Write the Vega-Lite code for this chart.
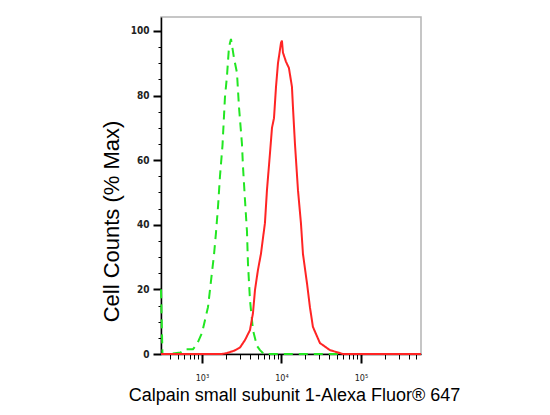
{
  "$schema": "https://vega.github.io/schema/vega-lite/v6.json",
  "width": 260,
  "height": 337,
  "autosize": {"type": "none"},
  "padding": {"left": 161, "top": 17, "right": 129, "bottom": 61},
  "background": "white",
  "config": {"view": {"stroke": "#b4b4b4", "strokeWidth": 1.5}},
  "data": {
    "values": [
      {"sample": "Isotype", "fluor": 305, "pct": 20},
      {"sample": "Isotype", "fluor": 318, "pct": 0},
      {"sample": "Isotype", "fluor": 395, "pct": 0},
      {"sample": "Isotype", "fluor": 540, "pct": 0.5},
      {"sample": "Isotype", "fluor": 611, "pct": 1.5},
      {"sample": "Isotype", "fluor": 771, "pct": 1.5},
      {"sample": "Isotype", "fluor": 865, "pct": 3},
      {"sample": "Isotype", "fluor": 1000, "pct": 6.5},
      {"sample": "Isotype", "fluor": 1190, "pct": 14.5},
      {"sample": "Isotype", "fluor": 1415, "pct": 30.6},
      {"sample": "Isotype", "fluor": 1500, "pct": 37.5},
      {"sample": "Isotype", "fluor": 1590, "pct": 45.5},
      {"sample": "Isotype", "fluor": 1684, "pct": 55},
      {"sample": "Isotype", "fluor": 1811, "pct": 64.5},
      {"sample": "Isotype", "fluor": 1946, "pct": 79.5},
      {"sample": "Isotype", "fluor": 2062, "pct": 86},
      {"sample": "Isotype", "fluor": 2186, "pct": 95},
      {"sample": "Isotype", "fluor": 2317, "pct": 97.5},
      {"sample": "Isotype", "fluor": 2528, "pct": 91.6},
      {"sample": "Isotype", "fluor": 2756, "pct": 87},
      {"sample": "Isotype", "fluor": 2920, "pct": 76.5},
      {"sample": "Isotype", "fluor": 3185, "pct": 65},
      {"sample": "Isotype", "fluor": 3280, "pct": 58},
      {"sample": "Isotype", "fluor": 3475, "pct": 47.7},
      {"sample": "Isotype", "fluor": 3682, "pct": 38},
      {"sample": "Isotype", "fluor": 3790, "pct": 28},
      {"sample": "Isotype", "fluor": 4018, "pct": 16.7},
      {"sample": "Isotype", "fluor": 4383, "pct": 7.4},
      {"sample": "Isotype", "fluor": 4920, "pct": 2.5},
      {"sample": "Isotype", "fluor": 5370, "pct": 1.2},
      {"sample": "Isotype", "fluor": 6030, "pct": 0},
      {"sample": "Isotype", "fluor": 570000, "pct": 0},
      {"sample": "Calpain", "fluor": 305, "pct": 0},
      {"sample": "Calpain", "fluor": 1786, "pct": 0},
      {"sample": "Calpain", "fluor": 2062, "pct": 0.3},
      {"sample": "Calpain", "fluor": 2528, "pct": 1},
      {"sample": "Calpain", "fluor": 3006, "pct": 2},
      {"sample": "Calpain", "fluor": 3475, "pct": 4.3},
      {"sample": "Calpain", "fluor": 4018, "pct": 7.4},
      {"sample": "Calpain", "fluor": 4383, "pct": 12.7},
      {"sample": "Calpain", "fluor": 4645, "pct": 19.8},
      {"sample": "Calpain", "fluor": 5060, "pct": 26},
      {"sample": "Calpain", "fluor": 5520, "pct": 31},
      {"sample": "Calpain", "fluor": 6194, "pct": 40.5},
      {"sample": "Calpain", "fluor": 6570, "pct": 50.7},
      {"sample": "Calpain", "fluor": 7165, "pct": 62},
      {"sample": "Calpain", "fluor": 7600, "pct": 70},
      {"sample": "Calpain", "fluor": 8055, "pct": 73},
      {"sample": "Calpain", "fluor": 8540, "pct": 82.7},
      {"sample": "Calpain", "fluor": 9045, "pct": 90},
      {"sample": "Calpain", "fluor": 9865, "pct": 96.3},
      {"sample": "Calpain", "fluor": 10140, "pct": 97},
      {"sample": "Calpain", "fluor": 10440, "pct": 93.3},
      {"sample": "Calpain", "fluor": 11390, "pct": 90.5},
      {"sample": "Calpain", "fluor": 12420, "pct": 88.5},
      {"sample": "Calpain", "fluor": 13550, "pct": 82.7},
      {"sample": "Calpain", "fluor": 13950, "pct": 76.5},
      {"sample": "Calpain", "fluor": 14790, "pct": 65},
      {"sample": "Calpain", "fluor": 16140, "pct": 50.7},
      {"sample": "Calpain", "fluor": 17590, "pct": 40.5},
      {"sample": "Calpain", "fluor": 18640, "pct": 31},
      {"sample": "Calpain", "fluor": 20930, "pct": 22},
      {"sample": "Calpain", "fluor": 22820, "pct": 14.5},
      {"sample": "Calpain", "fluor": 24880, "pct": 8.4},
      {"sample": "Calpain", "fluor": 30480, "pct": 3.4},
      {"sample": "Calpain", "fluor": 40740, "pct": 1.2},
      {"sample": "Calpain", "fluor": 59380, "pct": 0},
      {"sample": "Calpain", "fluor": 570000, "pct": 0}
    ]
  },
  "mark": {"type": "line", "interpolate": "linear", "strokeWidth": 2},
  "encoding": {
    "x": {
      "field": "fluor",
      "type": "quantitative",
      "scale": {"type": "log", "domain": [305, 570000], "nice": false},
      "axis": {
        "values": [400, 500, 600, 700, 800, 900, 1000, 2000, 3000, 4000, 5000, 6000, 7000, 8000, 9000, 10000, 20000, 30000, 40000, 50000, 60000, 70000, 80000, 90000, 100000, 200000, 300000, 400000, 500000],
        "labelExpr": "datum.value == 1000 ? '10³' : datum.value == 10000 ? '10⁴' : datum.value == 100000 ? '10⁵' : ''",
        "tickSize": {"condition": {"test": "datum.value == 1000 || datum.value == 10000 || datum.value == 100000", "value": 9}, "value": 5},
        "tickWidth": {"condition": {"test": "datum.value == 1000 || datum.value == 10000 || datum.value == 100000", "value": 2}, "value": 1},
        "tickColor": "black",
        "domainColor": "black",
        "domainWidth": 1.5,
        "grid": false,
        "labelFont": "DejaVu Sans Condensed, sans-serif",
        "labelFontSize": 9,
        "labelColor": "#222222",
        "labelPadding": 10,
        "labelFlush": false,
        "labelOverlap": false,
        "labelBound": false,
        "title": "Calpain small subunit 1-Alexa Fluor® 647",
        "titleFont": "Liberation Sans, Arial, sans-serif",
        "titleFontSize": 18,
        "titleFontWeight": "normal",
        "titleColor": "black",
        "titleAlign": "center",
        "titleBaseline": "alphabetic",
        "titleX": 133,
        "titleY": 46
      }
    },
    "y": {
      "field": "pct",
      "type": "quantitative",
      "scale": {"domain": [0, 104.3], "nice": false},
      "axis": {
        "values": [0, 5, 10, 15, 20, 25, 30, 35, 40, 45, 50, 55, 60, 65, 70, 75, 80, 85, 90, 95, 100],
        "labelExpr": "datum.value % 20 === 0 ? datum.label : ''",
        "tickSize": {"condition": {"test": "datum.value % 20 === 0", "value": 8}, "value": 3},
        "tickWidth": {"condition": {"test": "datum.value % 20 === 0", "value": 2}, "value": 1},
        "tickColor": "black",
        "domainColor": "black",
        "domainWidth": 1.5,
        "grid": false,
        "labelFont": "DejaVu Sans Condensed, sans-serif",
        "labelFontSize": 10,
        "labelFontWeight": "bold",
        "labelColor": "#222222",
        "labelPadding": 4,
        "labelFlush": false,
        "labelOverlap": false,
        "title": "Cell Counts (% Max)",
        "titleFont": "Liberation Sans, Arial, sans-serif",
        "titleFontSize": 22,
        "titleFontWeight": "normal",
        "titleColor": "black",
        "titleAngle": -90,
        "titleAlign": "center",
        "titleBaseline": "middle",
        "titleX": -50,
        "titleY": 204
      }
    },
    "color": {
      "field": "sample",
      "type": "nominal",
      "sort": ["Isotype", "Calpain"],
      "scale": {"domain": ["Isotype", "Calpain"], "range": ["#22e622", "#ff2424"]},
      "legend": null
    },
    "strokeDash": {
      "field": "sample",
      "type": "nominal",
      "sort": ["Isotype", "Calpain"],
      "scale": {"domain": ["Isotype", "Calpain"], "range": [[9, 6], [1, 0]]},
      "legend": null
    }
  }
}
